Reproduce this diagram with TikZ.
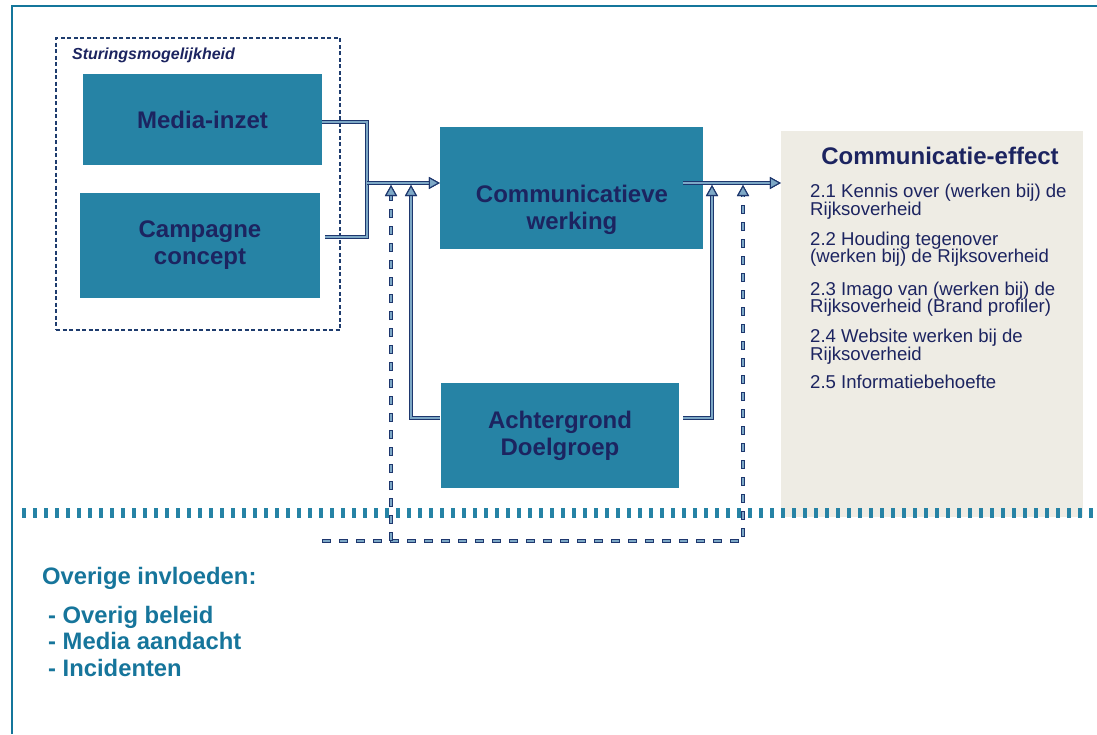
\documentclass[tikz,border=0pt]{standalone}
\usepackage{fontspec}
\setmainfont{Liberation Sans}
\usetikzlibrary{arrows.meta}
\definecolor{boxteal}{RGB}{38,131,165}
\definecolor{navy}{RGB}{28,36,96}
\definecolor{cdark}{RGB}{30,55,110}
\definecolor{clight}{RGB}{125,168,198}
\definecolor{beige}{RGB}{238,236,228}
\definecolor{frame}{RGB}{20,118,155}
\definecolor{otext}{RGB}{22,117,155}
\definecolor{dbox}{RGB}{30,60,110}
\tikzset{
  box/.style={rectangle, fill=boxteal, draw=none, inner sep=0pt, align=center, text=navy,
    font=\fontsize{24}{27}\selectfont\bfseries},
  conn/.style={draw=clight, line width=2.6pt, preaction={draw=cdark, line width=4.8pt}},
  dconn/.style={draw=clight, line width=2.4pt, dash pattern=on 7pt off 10pt, dash phase=16pt,
    preaction={draw=cdark, line width=4.6pt, dash pattern=on 9pt off 8pt, dash phase=0pt}},
  tipa/.style={-{Triangle[length=11pt,width=12pt,fill=clight,color=cdark,line width=1.1pt]}},
  item/.style={anchor=base west, inner sep=0pt, text=navy, font=\fontsize{18.6}{18}\selectfont},
  oitem/.style={anchor=base west, inner sep=0pt, text=otext, font=\fontsize{23.8}{26}\selectfont\bfseries},
  band/.style={draw=boxteal, line width=10pt, dash pattern=on 3.5pt off 7.5pt},
}
\begin{document}
\begin{tikzpicture}[x=1pt,y=-1pt]
\useasboundingbox (0,0) rectangle (1097,734);
% outer frame
\draw[frame, line width=2.2pt] (12,734) -- (12,6) -- (1097,6);
% panel
\node[rectangle, fill=beige, minimum width=302pt, minimum height=386pt, inner sep=0pt] (ce) at (932,324) {};
% dashed group box
\node[rectangle, draw=dbox, line width=1.6pt, dash pattern=on 4pt off 2.5pt, minimum width=284pt, minimum height=292pt, inner sep=0pt] (sg) at (198,184) {};
\node[anchor=base west, inner sep=0pt, text=navy, font=\fontsize{16}{18}\selectfont\bfseries\itshape] (sgl) at (72,59) {Sturingsmogelijkheid};
% boxes
\node[box, minimum width=239pt, minimum height=91pt] (mi) at (202.5,119.5) {Media-inzet};
\node[box, minimum width=240pt, minimum height=105pt] (cc) at (200,245.5) {Campagne\\concept};
\node[box, minimum width=263pt, minimum height=122pt] (cw) at (571.5,188) {};
\node[align=center, inner sep=0pt, text=navy, font=\fontsize{24}{27}\selectfont\bfseries] (cwt) at (572,209.5) {Communicatieve\\werking};
\node[box, minimum width=238pt, minimum height=105pt] (ad) at (560,435.5) {Achtergrond\\Doelgroep};
% band
\draw[band] (22,513) -- (1097,513);
% coordinates
\coordinate (j1) at (367,183);
\coordinate (a1) at (411,185);
\coordinate (a2) at (391,185);
\coordinate (r0) at (683,183);
\coordinate (a3) at (712,185);
\coordinate (a4) at (743,185);
\coordinate (d0) at (322,541);
\coordinate (d1) at (743,541);
\coordinate (d2) at (391,541);
% dashed connectors
\draw[dconn, tipa] (d0) -- (d1) -- (a4);
\draw[dconn, tipa] (d2) -- (a2);
% solid connectors
\draw[conn] ([yshift=-2.5pt]mi.east) -| (j1);
\draw[conn] ([xshift=5pt,yshift=8.5pt]cc.east) -| (j1);
\draw[conn, tipa] (j1) -- (j1 -| cw.west);
\draw[conn, tipa] ([xshift=-1pt,yshift=17.5pt]ad.west) -| (a1);
\draw[conn, tipa] (r0) -- (r0 -| ce.west);
\draw[conn, tipa] ([xshift=4pt,yshift=17.5pt]ad.east) -| (a3);
% panel text
\node[anchor=base, inner sep=0pt, text=navy, font=\fontsize{24}{26}\selectfont\bfseries] (cet) at (940,164) {Communicatie-effect};
\node[item] (i1a) at (810,197) {2.1 Kennis over (werken bij) de};
\node[item] (i1b) at (810,215) {Rijksoverheid};
\node[item] (i2a) at (810,245) {2.2 Houding tegenover};
\node[item] (i2b) at (810,262) {(werken bij) de Rijksoverheid};
\node[item] (i3a) at (810,295) {2.3 Imago van (werken bij) de};
\node[item] (i3b) at (810,312) {Rijksoverheid (Brand profiler)};
\node[item] (i4a) at (810,342) {2.4 Website werken bij de};
\node[item] (i4b) at (810,360) {Rijksoverheid};
\node[item] (i5) at (810,388) {2.5 Informatiebehoefte};
% overige
\node[oitem] (oi) at (42,584) {Overige invloeden:};
\node[oitem] (o1) at (48,623) {- Overig beleid};
\node[oitem] (o2) at (48,649) {- Media aandacht};
\node[oitem] (o3) at (48,676) {- Incidenten};
\end{tikzpicture}
\end{document}
